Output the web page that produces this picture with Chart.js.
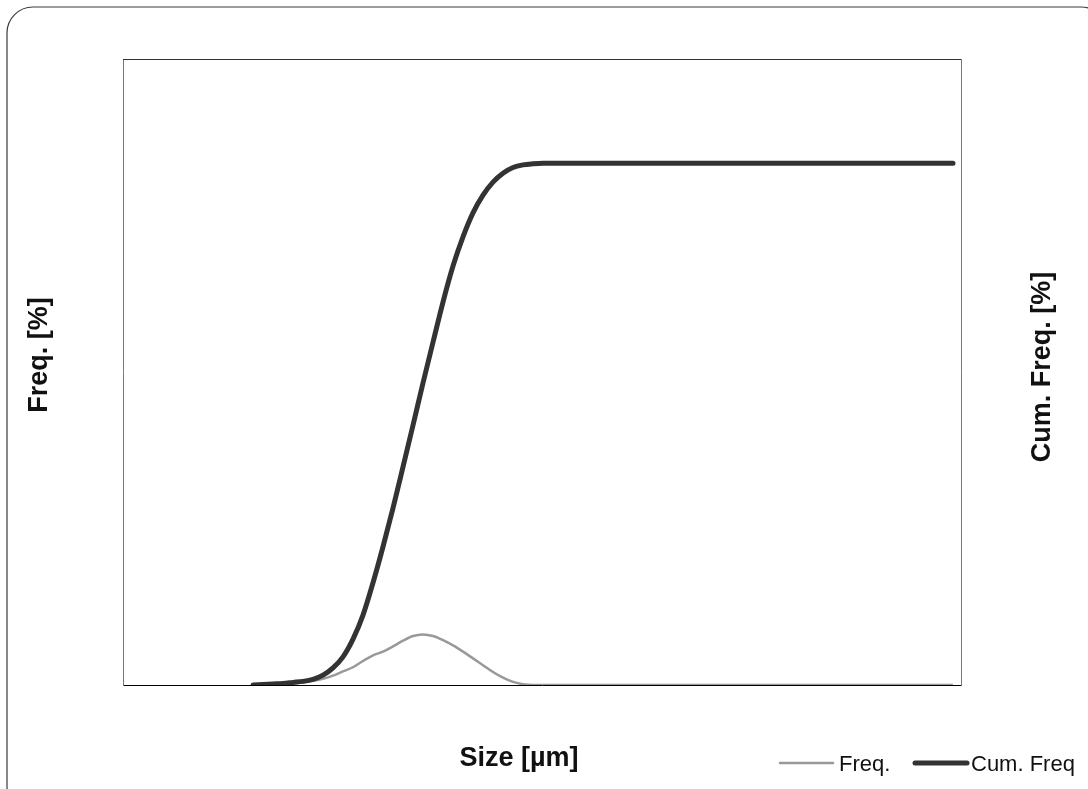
<!DOCTYPE html>
<html>
<head>
<meta charset="utf-8">
<script src="https://cdn.jsdelivr.net/npm/chart.js@4.4.1/dist/chart.umd.min.js"></script>
<style>
  html, body { margin: 0; padding: 0; background: #ffffff; }
  #wrap { width: 1088px; height: 789px; }
</style>
</head>
<body>
<div id="wrap"><canvas id="c" width="1088" height="789"></canvas></div>
<script>
// ---- data (size classes 0..70) ----
const sizeClass = [0,1,2,3,4,5,6,7,8,9,10,11,12,13,14,15,16,17,18,19,20,21,22,23,24,25,26,27,28,29,30,31,32,33,34,35,36,37,38,39,40,41,42,43,44,45,46,47,48,49,50,51,52,53,54,55,56,57,58,59,60,61,62,63,64,65,66,67,68,69,70];
const freqValues = [0,0.04,0.1,0.2,0.3,0.5,0.8,1.2,1.8,2.6,3.4,4.6,5.7,6.4,7.4,8.5,9.4,9.7,9.4,8.6,7.6,6.4,5.1,3.8,2.5,1.4,0.6,0.15,0,0,0,0,0,0,0,0,0,0,0,0,0,0,0,0,0,0,0,0,0,0,0,0,0,0,0,0,0,0,0,0,0,0,0,0,0,0,0,0,0,0,0];
const cumValues = [0,0.1,0.2,0.3,0.5,0.7,1.1,1.9,3.3,5.4,8.8,13.4,19.6,26.5,33.9,41.8,49.8,57.9,65.7,73.4,80.3,85.9,90.5,93.9,96.4,98.1,99.2,99.7,99.9,100,100,100,100,100,100,100,100,100,100,100,100,100,100,100,100,100,100,100,100,100,100,100,100,100,100,100,100,100,100,100,100,100,100,100,100,100,100,100,100,100,100];
const seriesNames = ['Freq.', 'Cum. Freq'];
const axisTitles = { x: 'Size [µm]', y: 'Freq. [%]', y2: 'Cum. Freq. [%]' };

const FONT = '"Liberation Sans", Arial, Helvetica, sans-serif';

const decorPlugin = {
  id: 'decor',
  beforeDraw(chart) {
    const ctx = chart.ctx;
    ctx.save();
    ctx.fillStyle = '#ffffff';
    ctx.fillRect(0, 0, chart.width, chart.height);
    // outer rounded frame
    ctx.strokeStyle = '#3a3a3a';
    ctx.lineWidth = 1.2;
    ctx.beginPath();
    ctx.roundRect(7, 7, 1100, 806, 26);
    ctx.stroke();
    ctx.restore();
  },
  afterDraw(chart) {
    const ctx = chart.ctx;
    const a = chart.chartArea;
    ctx.save();
    // top border of plot area
    ctx.strokeStyle = '#333333';
    ctx.lineWidth = 1;
    ctx.beginPath();
    ctx.moveTo(a.left, a.top + 0.5);
    ctx.lineTo(a.right, a.top + 0.5);
    ctx.stroke();

    // axis titles
    ctx.fillStyle = '#111111';
    ctx.font = 'bold 27px ' + FONT;
    ctx.textAlign = 'center';
    ctx.textBaseline = 'middle';
    ctx.fillText(axisTitles.x, 519, 759);
    ctx.save();
    ctx.translate(40, 355);
    ctx.rotate(-Math.PI / 2);
    ctx.fillText(axisTitles.y, 0, 0);
    ctx.restore();
    ctx.save();
    ctx.translate(1043, 367);
    ctx.rotate(-Math.PI / 2);
    ctx.fillText(axisTitles.y2, 0, 0);
    ctx.restore();

    // legend
    const ds = chart.data.datasets;
    const items = [
      { x0: 780, x1: 833, tx: 839, d: ds[0] },
      { x0: 915, x1: 967, tx: 971, d: ds[1] }
    ];
    ctx.font = '22px ' + FONT;
    ctx.textAlign = 'left';
    ctx.textBaseline = 'middle';
    items.forEach(it => {
      ctx.strokeStyle = it.d.borderColor;
      ctx.lineWidth = it.d.borderWidth;
      ctx.lineCap = 'round';
      ctx.beginPath();
      ctx.moveTo(it.x0, 763);
      ctx.lineTo(it.x1, 763);
      ctx.stroke();
      ctx.fillStyle = '#111111';
      ctx.fillText(it.d.label, it.tx, 765);
    });
    ctx.restore();
  }
};

const zeroFit = (s) => { if (s.isHorizontal()) s.height = 0; else s.width = 0; };

new Chart(document.getElementById('c'), {
  type: 'line',
  data: {
    datasets: [
      {
        label: seriesNames[0],
        data: freqValues.map((v, i) => ({ x: sizeClass[i], y: v })),
        yAxisID: 'y',
        borderColor: '#999999',
        borderWidth: 2.5,
        pointRadius: 0,
        cubicInterpolationMode: 'monotone',
        fill: false,
        order: 1
      },
      {
        label: seriesNames[1],
        data: cumValues.map((v, i) => ({ x: sizeClass[i], y: v })),
        yAxisID: 'y2',
        borderColor: '#333333',
        borderWidth: 5,
        borderCapStyle: 'round',
        borderJoinStyle: 'round',
        pointRadius: 0,
        cubicInterpolationMode: 'monotone',
        fill: false,
        order: 0
      }
    ]
  },
  options: {
    responsive: false,
    animation: false,
    events: [],
    layout: { padding: { left: 123, right: 127, top: 59, bottom: 104 } },
    plugins: { legend: { display: false }, tooltip: { enabled: false }, title: { display: false } },
    scales: {
      x: {
        type: 'linear', min: -13, max: 70.8,
        ticks: { display: false }, grid: { display: false, drawTicks: false },
        border: { display: true, color: '#000000', width: 1 },
        afterFit: zeroFit
      },
      y: {
        type: 'linear', position: 'left', min: 0, max: 120,
        ticks: { display: false }, grid: { display: false, drawTicks: false },
        border: { display: true, color: '#777777', width: 1 },
        afterFit: zeroFit
      },
      y2: {
        type: 'linear', position: 'right', min: 0, max: 120,
        ticks: { display: false }, grid: { display: false, drawTicks: false },
        border: { display: true, color: '#777777', width: 1 },
        afterFit: zeroFit
      }
    }
  },
  plugins: [decorPlugin]
});
</script>
</body>
</html>
